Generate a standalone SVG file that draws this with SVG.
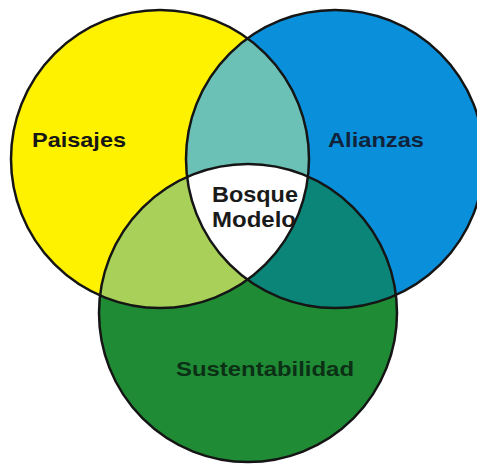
<svg xmlns="http://www.w3.org/2000/svg" width="477" height="464" viewBox="0 0 477 464">
  <style>
    .outline { fill: none; stroke: #151515; stroke-width: 2.5; }
    .lbl { font-family: "Liberation Sans", Arial, sans-serif; font-weight: bold; }
  </style>
  <defs>
    <clipPath id="clipY"><circle cx="160" cy="159" r="149"/></clipPath>
    <clipPath id="clipB"><circle cx="335" cy="159" r="149"/></clipPath>
    <clipPath id="clipG"><circle cx="248" cy="313" r="149"/></clipPath>
  </defs>
  <rect width="477" height="464" fill="#ffffff"/>

  <!-- base circles -->
  <g id="paisajes">
    <circle cx="160" cy="159" r="149" fill="#FFF200"/>
  </g>
  <g id="alianzas">
    <circle cx="335" cy="159" r="149" fill="#0A90DA"/>
  </g>
  <g id="sustentabilidad">
    <circle cx="248" cy="313" r="149" fill="#1F8B35"/>
  </g>

  <!-- overlaps -->
  <g id="overlap-paisajes-alianzas" clip-path="url(#clipY)">
    <circle cx="335" cy="159" r="149" fill="#6CC1B6"/>
  </g>
  <g id="overlap-paisajes-sustentabilidad" clip-path="url(#clipY)">
    <circle cx="248" cy="313" r="149" fill="#A9D15A"/>
  </g>
  <g id="overlap-alianzas-sustentabilidad" clip-path="url(#clipB)">
    <circle cx="248" cy="313" r="149" fill="#0B8578"/>
  </g>
  <g id="bosque-modelo" clip-path="url(#clipY)">
    <g clip-path="url(#clipB)">
      <circle cx="248" cy="313" r="149" fill="#ffffff"/>
    </g>
  </g>

  <!-- outlines -->
  <g id="outlines">
    <circle class="outline" cx="160" cy="159" r="149"/>
    <circle class="outline" cx="335" cy="159" r="149"/>
    <circle class="outline" cx="248" cy="313" r="149"/>
  </g>

  <!-- labels -->
  <g id="labels">
    <text class="lbl" x="32" y="147" font-size="21" fill="#161616" textLength="94" lengthAdjust="spacingAndGlyphs">Paisajes</text>
    <text class="lbl" x="328" y="147" font-size="21" fill="#10233A" textLength="96" lengthAdjust="spacingAndGlyphs">Alianzas</text>
    <text class="lbl" x="212" y="201.7" font-size="22" fill="#1a1a1a" textLength="86" lengthAdjust="spacingAndGlyphs">Bosque</text>
    <text class="lbl" x="212" y="226.7" font-size="22" fill="#1a1a1a" textLength="84" lengthAdjust="spacingAndGlyphs">Modelo</text>
    <text class="lbl" x="176" y="376" font-size="21" fill="#0C3016" textLength="178" lengthAdjust="spacingAndGlyphs">Sustentabilidad</text>
  </g>
</svg>
